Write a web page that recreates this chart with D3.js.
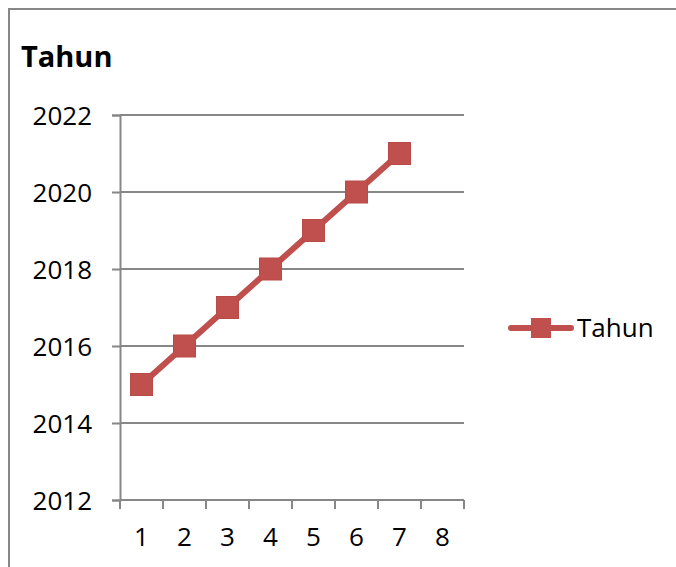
<!DOCTYPE html>
<html>
<head>
<meta charset="utf-8">
<script src="https://cdn.jsdelivr.net/npm/d3@7"></script>
<style>
  body { margin: 0; background: #fff; }
  text { font-family: "Open Sans", Lato, sans-serif; fill: #000; }
</style>
</head>
<body>
<div id="chart"></div>
<script>
//! DATA
const categories = ['1', '2', '3', '4', '5', '6', '7', '8'];
const years = [2015, 2016, 2017, 2018, 2019, 2020, 2021];
const yTicks = [2012, 2014, 2016, 2018, 2020, 2022];
const seriesName = 'Tahun';

//! CONSTS
const width = 676;
const height = 567;
const red = '#C0504D';
const grey = '#878787';
const plot = { left: 120, right: 464, top: 115, bottom: 500 };

const svg = d3.select('#chart')
  .append('svg')
  .attr('width', width)
  .attr('height', height);

// chart frame
svg.append('rect')
  .attr('x', 9).attr('y', 9)
  .attr('width', 700).attr('height', 600)
  .attr('fill', 'none')
  .attr('stroke', grey)
  .attr('stroke-width', 2);

svg.append('text')
  .attr('x', 21).attr('y', 67)
  .style('font-size', '29px')
  .style('font-weight', 'bold')
  .text(seriesName);

//! SCALES
const xScale = d3.scaleBand()
  .domain(categories)
  .range([plot.left, plot.right]);

const yScale = d3.scaleLinear()
  .domain([2012, 2022])
  .range([plot.bottom, plot.top]);

//! AXES
const yAxis = d3.axisLeft(yScale)
  .tickValues(yTicks)
  .tickFormat(d3.format('d'))
  .tickSize(8)
  .tickPadding(20);

const gy = svg.append('g')
  .attr('transform', `translate(${plot.left},0)`)
  .call(yAxis);
gy.select('.domain').attr('stroke', grey).attr('stroke-width', 2);
gy.selectAll('.tick line').attr('stroke', grey).attr('stroke-width', 2);
gy.selectAll('.tick text').style('font-size', '26px').attr('dy', '0.36em');

// gridlines
svg.append('g')
  .selectAll('line')
  .data(yTicks)
  .enter()
  .append('line')
  .attr('x1', plot.left).attr('x2', plot.right)
  .attr('y1', d => yScale(d)).attr('y2', d => yScale(d))
  .attr('stroke', grey)
  .attr('stroke-width', 2);

const xAxis = d3.axisBottom(xScale)
  .tickSize(0)
  .tickPadding(28);

const gx = svg.append('g')
  .attr('transform', `translate(0,${plot.bottom})`)
  .call(xAxis);
gx.select('.domain').remove();
gx.selectAll('.tick text').style('font-size', '26px');

// tick marks between categories
svg.append('g')
  .selectAll('line')
  .data(categories.concat(['end']))
  .enter()
  .append('line')
  .attr('x1', (d, i) => plot.left + i * xScale.bandwidth())
  .attr('x2', (d, i) => plot.left + i * xScale.bandwidth())
  .attr('y1', plot.bottom)
  .attr('y2', plot.bottom + 9)
  .attr('stroke', grey)
  .attr('stroke-width', 2);

//! SERIES
const points = years.map((v, i) => ({ x: categories[i], y: v }));
const cx = d => xScale(d.x) + xScale.bandwidth() / 2;

svg.append('path')
  .datum(points)
  .attr('fill', 'none')
  .attr('stroke', red)
  .attr('stroke-width', 6)
  .attr('d', d3.line().x(cx).y(d => yScale(d.y)));

const mk = 22;
svg.append('g')
  .selectAll('rect')
  .data(points)
  .enter()
  .append('rect')
  .attr('x', d => cx(d) - mk / 2)
  .attr('y', d => yScale(d.y) - mk / 2)
  .attr('width', mk)
  .attr('height', mk)
  .attr('fill', red)
  .attr('stroke', '#b84a47')
  .attr('stroke-width', 1);

//! LEGEND
const lg = svg.append('g').attr('transform', 'translate(0,328)');
lg.append('line')
  .attr('x1', 511).attr('x2', 571)
  .attr('y1', 0).attr('y2', 0)
  .attr('stroke', red)
  .attr('stroke-width', 6)
  .attr('stroke-linecap', 'round');
lg.append('rect')
  .attr('x', 531).attr('y', -10)
  .attr('width', 20).attr('height', 20)
  .attr('fill', red);
lg.append('text')
  .attr('x', 577).attr('y', 0)
  .attr('dy', '0.36em')
  .style('font-size', '26px')
  .text(seriesName);
</script>
</body>
</html>
